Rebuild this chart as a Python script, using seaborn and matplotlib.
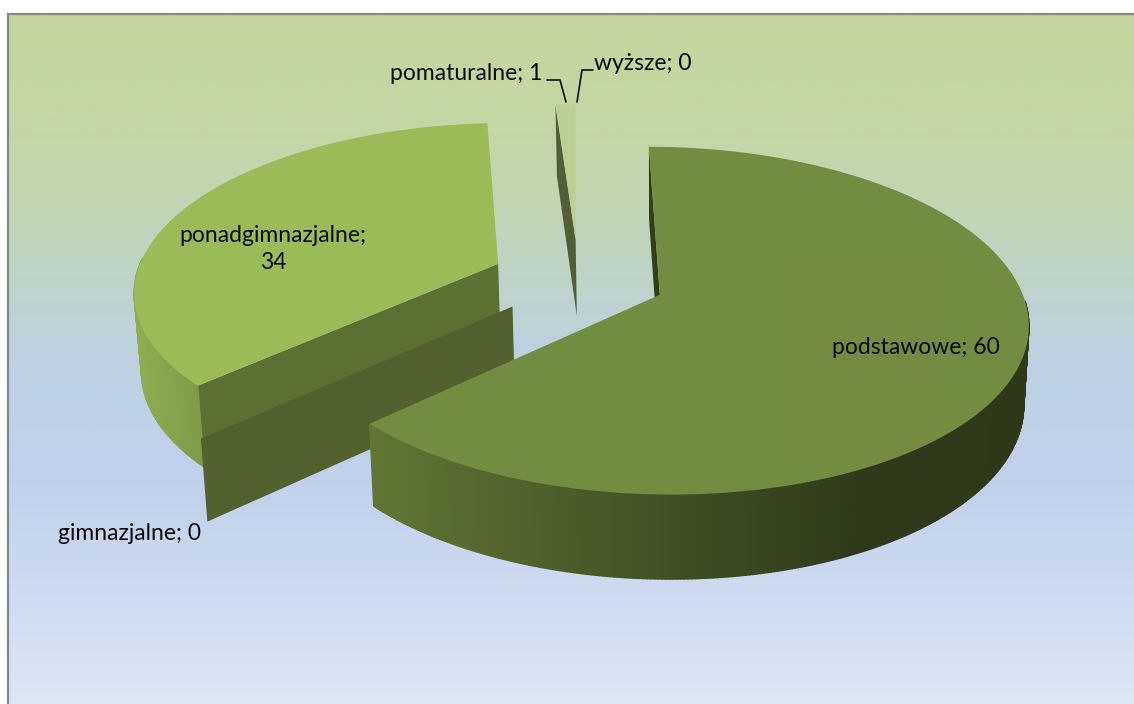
import numpy as np
import matplotlib
matplotlib.use('Agg')
import matplotlib.pyplot as plt
from matplotlib.collections import PolyCollection
from matplotlib.patches import Rectangle, Polygon
import seaborn as sns

# values
categories = ['podstawowe', 'gimnazjalne', 'ponadgimnazjalne', 'pomaturalne', 'wyższe']
values = [60, 0, 34, 1, 0]

sns.set_theme(style='white')
plt.rcParams['font.family'] = ['Lato', 'DejaVu Sans']

# fake 3D settings of the old office chart
start_angle = 92
explode = 0.243
cx, cy = 661, 295
rx, ry = 365, 170
persp = 0.149
depth = 78
shear = 0.015
centre_shift = (-0.229, 0.091)

bg_colors = ['#c4d69d', '#c5d6a4', '#c0d4be', '#bed0e1', '#c0d0eb', '#cddaf0', '#dee6f3']
top_colors = ['#728c41', None, '#9bbb59', '#bccf93', None]
cut_colors = ['#323e19', '#52612d', '#5c7032', '#505f37', None]
rim_colors = [['#617634', '#50612b', '#3e4c21', '#303a1b', '#30381a'], None,
              ['#8fac52', '#7d9846'], None, None]


def project(u, v, z=0.0):
    u = np.asarray(u, dtype=float) + centre_shift[0]
    v = np.asarray(v, dtype=float) + centre_shift[1]
    s = 1 / (1 + persp * v)
    x = cx + rx * u * s
    y = cy - ry * v * s + shear * (x - cx)
    if z:
        x = x + (cx - x) * 0.014 * z
        y = y + depth * z * s ** 0.5
    return np.column_stack([np.atleast_1d(x), np.atleast_1d(y)])


fig = plt.figure(figsize=(11.34, 7.04), dpi=100)
ax = fig.add_axes([0, 0, 1, 1])
ax.axis('off')

# background
bg = np.array(sns.blend_palette(bg_colors, 400))[:, None, :]
ax.imshow(bg, extent=[9, 1134, 704, 15], aspect='auto', zorder=0)
ax.set_xlim(0, 1134)
ax.set_ylim(704, 0)
ax.plot([8, 8, 1134], [704, 14, 14], color='#868686', lw=1.6, zorder=1, solid_joinstyle='miter')

# slice angles go clockwise from the start angle
edges = start_angle - np.concatenate([[0], np.cumsum(values)]) / np.sum(values) * 360

z = 2
face = None
for i in [4, 3, 2, 1, 0]:
    a0, a1 = np.radians(edges[i]), np.radians(edges[i + 1])
    mid = (a0 + a1) / 2
    ox, oy = explode * np.cos(mid), explode * np.sin(mid)
    t = np.linspace(a0, a1, max(2, int(abs(edges[i] - edges[i + 1]) * 2)))
    ou, ov = ox + np.cos(t), oy + np.sin(t)

    # flat cut wall, only the one the viewer can see
    if cut_colors[i] is not None:
        uu = [ox, ox + np.cos(a0)]
        vv = [oy, oy + np.sin(a0)]
        wall = np.vstack([project(uu, vv), project(uu, vv, 1.0)[::-1]])
        ax.add_collection(PolyCollection([wall], facecolors=cut_colors[i], edgecolors='none', zorder=z))
        z += 1

    if values[i] == 0:
        continue

    # outer rim, shaded from left to right, front part only
    top = project(ou, ov)
    bot = project(ou, ov, 1.0)
    if rim_colors[i] is not None:
        front = np.where(np.sin(t) < 0)[0]
        front = front[front < len(t) - 1]
        quads = [np.array([top[j], top[j + 1], bot[j + 1], bot[j]]) for j in front]
        pal = sns.blend_palette(rim_colors[i], 300)
        xs = top[:, 0]
        xt = (xs[:-1] - xs.min()) / (xs.max() - xs.min())
        if i == 2:
            xt = np.clip((xs[:-1] - 137) / 70, 0, 1)
        cols = [pal[int(xt[j] * 299)] for j in front]
        ax.add_collection(PolyCollection(quads, facecolors=cols, edgecolors=cols, linewidths=1.0, zorder=z))
        z += 1

    # top face
    face = np.vstack([project([ox], [oy]), top])
    ax.add_collection(PolyCollection([face], facecolors=top_colors[i], edgecolors='none', zorder=z))
    z += 1

# faint brownish patch on the big slice, kept inside its top face
patch = Rectangle((790, 270), 140, 190, facecolor='#8a8846', edgecolor='none', alpha=0.12, zorder=z)
ax.add_patch(patch)
patch.set_clip_path(Polygon(face, transform=ax.transData))
z += 1

# labels and their leader lines
txt = dict(color='#0a0a0a', fontsize=16.5, va='center', zorder=z + 1)
ax.text(916, 347, f'{categories[0]}; {values[0]}', ha='center', **txt)
ax.text(273, 249, f'{categories[2]};\n{values[2]}', ha='center', linespacing=1.4, **txt)
ax.text(466, 73, f'{categories[3]}; {values[3]}', ha='center', **txt)
ax.text(643, 63, f'{categories[4]}; {values[4]}', ha='center', **txt)
ax.text(130, 533, f'{categories[1]}; {values[1]}', ha='center', **txt)
ax.plot([547, 560, 566], [80, 80, 102], color='#111111', lw=1.2, zorder=z)
ax.plot([593, 582, 577], [70, 70, 102], color='#111111', lw=1.2, zorder=z)

fig.savefig('out.png', dpi=100)
plt.close(fig)
